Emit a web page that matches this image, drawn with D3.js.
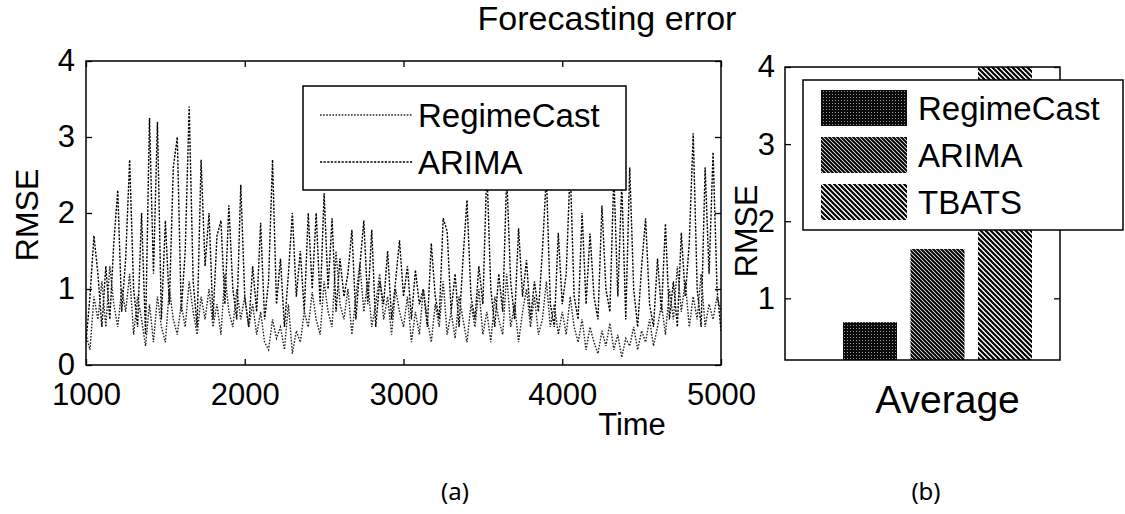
<!DOCTYPE html>
<meta charset="utf-8">
<head>
<style>
body{margin:0;background:#fff;}
text{font-family:"Liberation Sans",Arial,Helvetica,sans-serif;fill:#000;}
.frame{fill:none;stroke:#000;stroke-width:1.5px;}
.axis path{stroke:none;}
.axis line{stroke:#000;stroke-width:1.3px;}
.axis text{font-size:31px;font-family:"Liberation Sans",Arial,sans-serif;}
.legend .box{fill:#fff;stroke:#000;stroke-width:1.5px;}
.legend text{font-size:33px;}
.caption{font-family:"Noto Sans","Open Sans",sans-serif;font-size:24px;}
</style>
</head>
<body>
<script src="https://d3js.org/d3.v7.min.js"></script>
<script>

var time=[
1000,1025,1050,1075,1100,1125,1150,1175,1200,1225,1250,1275,1300,1325,1350,1375,1400,1425,1450,1475,
1500,1525,1550,1575,1600,1625,1650,1675,1700,1725,1750,1775,1800,1825,1850,1875,1900,1925,1950,1975,
2000,2025,2050,2075,2100,2125,2150,2175,2200,2225,2250,2275,2300,2325,2350,2375,2400,2425,2450,2475,
2500,2525,2550,2575,2600,2625,2650,2675,2700,2725,2750,2775,2800,2825,2850,2875,2900,2925,2950,2975,
3000,3025,3050,3075,3100,3125,3150,3175,3200,3225,3250,3275,3300,3325,3350,3375,3400,3425,3450,3475,
3500,3525,3550,3575,3600,3625,3650,3675,3700,3725,3750,3775,3800,3825,3850,3875,3900,3925,3950,3975,
4000,4025,4050,4075,4100,4125,4150,4175,4200,4225,4250,4275,4300,4325,4350,4375,4400,4425,4450,4475,
4500,4525,4550,4575,4600,4625,4650,4675,4700,4725,4750,4775,4800,4825,4850,4875,4900,4925,4950,4975,
5000];

var arima=[
0.3,0.9,1.7,1.2,0.5,1.3,0.6,1.6,2.3,0.7,1.4,2.7,1.0,0.5,2.0,0.4,3.25,1.2,3.2,0.6,
1.9,0.8,2.6,3.0,0.7,1.5,3.4,1.1,0.5,2.7,1.3,2.0,0.6,1.7,1.9,0.8,2.1,1.0,0.6,2.37,
0.9,0.5,1.3,0.7,1.87,0.6,1.1,2.7,0.8,1.4,0.5,1.2,2.0,0.9,1.5,0.7,2.0,1.0,2.0,0.8,
2.26,1.0,1.93,0.7,1.4,0.9,1.2,1.78,0.6,1.3,1.9,0.8,1.78,0.5,1.1,0.8,1.5,0.6,1.1,1.64,
0.9,1.3,0.6,1.25,0.8,1.0,0.5,1.6,0.9,0.6,1.93,1.76,0.7,1.2,0.5,1.4,2.17,0.9,0.6,1.3,
0.8,2.6,1.0,0.5,1.2,0.7,2.5,1.1,0.6,1.8,0.9,1.38,0.6,1.1,0.7,1.5,2.5,0.8,0.5,1.74,
0.8,1.2,2.6,0.9,0.6,2.0,0.8,1.73,0.9,0.6,2.1,1.0,0.7,2.5,0.9,2.4,0.6,2.6,1.0,0.5,
1.3,1.93,0.8,0.5,1.4,0.7,1.86,0.6,1.1,0.5,1.74,0.9,1.6,3.05,1.0,0.5,2.6,1.2,2.8,1.0,
0.45];

var regimeCast=[
0.4,0.2,0.9,0.6,1.1,0.5,1.3,0.8,0.5,1.0,0.7,1.2,0.4,0.9,0.6,0.25,0.8,0.3,0.9,0.5,
0.3,1.0,0.6,0.4,0.8,0.5,1.1,0.7,0.4,0.9,0.6,1.0,0.5,0.8,0.4,1.2,0.7,0.5,1.0,0.6,
0.9,0.5,0.8,0.4,0.7,0.3,0.2,0.6,0.35,0.5,0.2,0.8,0.15,0.45,0.3,0.7,0.5,0.96,0.6,0.4,
1.1,0.7,0.5,1.5,0.8,0.6,1.0,0.4,0.9,1.34,0.7,1.1,0.5,0.8,1.2,0.6,0.9,0.4,1.0,0.7,
0.5,0.9,0.3,0.7,0.4,1.0,0.6,0.3,0.8,0.5,1.1,0.4,0.7,0.35,0.9,0.6,0.3,0.8,0.5,1.0,
0.4,0.7,0.3,0.9,0.6,0.4,1.2,0.5,0.8,0.3,0.7,1.0,0.5,0.9,0.4,0.6,1.1,0.5,0.8,0.4,
0.7,0.4,0.9,0.5,0.3,0.6,0.2,0.5,0.3,0.15,0.45,0.25,0.55,0.2,0.4,0.1,0.35,0.25,0.5,0.2,
0.45,0.3,0.6,0.25,0.5,0.8,0.4,1.0,0.6,1.3,0.7,1.1,0.5,0.9,0.6,1.2,0.5,0.8,0.6,0.9,
0.7];

var methods=["RegimeCast","ARIMA","TBATS"];
var averages=[0.69,1.64,4.3];
var lineSeries=["RegimeCast","ARIMA"];
var xTicks=[1000,2000,3000,4000,5000];
var yTicksA=[0,1,2,3,4];
var yTicksB=[1,2,3,4];

var svg=d3.select("body").append("svg").attr("width",1125).attr("height",514);
svg.append("rect").attr("width",1125).attr("height",514).attr("fill","#fff");

// hatch patterns for the bars
var defs=svg.append("defs");
var p1=defs.append("pattern").attr("id","pRegime").attr("patternUnits","userSpaceOnUse").attr("width",3).attr("height",3);
p1.append("rect").attr("width",3).attr("height",3).attr("fill","#0a0a0a");
p1.append("rect").attr("x",1).attr("y",1).attr("width",1).attr("height",1).attr("fill","#999");
var p2=defs.append("pattern").attr("id","pArima").attr("patternUnits","userSpaceOnUse").attr("width",4).attr("height",4);
p2.append("rect").attr("width",4).attr("height",4).attr("fill","#fff");
p2.append("path").attr("d","M-1,-1L5,5M-1,3L1,5M3,-1L5,1").attr("stroke","#000").attr("stroke-width",2);
var p3=defs.append("pattern").attr("id","pTbats").attr("patternUnits","userSpaceOnUse").attr("width",5).attr("height",5);
p3.append("rect").attr("width",5).attr("height",5).attr("fill","#fff");
p3.append("path").attr("d","M-1,-1L6,6M-1,4L1,6M4,-1L6,1").attr("stroke","#000").attr("stroke-width",2.2);
var fills={RegimeCast:"url(#pRegime)",ARIMA:"url(#pArima)",TBATS:"url(#pTbats)"};

/* ---------- (a) time series ---------- */
var A={left:86,right:721,top:61,bottom:365};
var xA=d3.scaleLinear().domain([1000,5000]).range([A.left,A.right]);
var yA=d3.scaleLinear().domain([0,4]).range([A.bottom,A.top]);

defs.append("clipPath").attr("id","clipA").append("rect")
	.attr("x",A.left).attr("y",A.top).attr("width",A.right-A.left).attr("height",A.bottom-A.top);

var styles={
	RegimeCast:{stroke:"#222",dash:"1.6,1.5",w:1.4},
	ARIMA:{stroke:"#000",dash:"2.2,1.4",w:1.4}
};
var seriesData={RegimeCast:regimeCast,ARIMA:arima};
var line=d3.line().x(function(d,i){return xA(time[i]);}).y(function(d){return yA(d);});

var gA=svg.append("g");
gA.append("g").attr("clip-path","url(#clipA)").selectAll("path")
	.data(["ARIMA","RegimeCast"]).enter().append("path")
	.attr("d",function(k){return line(seriesData[k]);})
	.attr("fill","none")
	.attr("stroke",function(k){return styles[k].stroke;})
	.attr("stroke-width",function(k){return styles[k].w;})
	.attr("stroke-dasharray",function(k){return styles[k].dash;});

gA.append("g").attr("class","axis").attr("transform","translate(0,"+A.bottom+")")
	.call(d3.axisBottom(xA).tickValues(xTicks).tickSizeInner(-6).tickSizeOuter(0).tickPadding(18).tickFormat(d3.format("d")));
gA.append("g").attr("class","axis").attr("transform","translate(0,"+A.top+")")
	.call(d3.axisTop(xA).tickValues(xTicks).tickSizeInner(-6).tickSizeOuter(0).tickFormat(""));
gA.append("g").attr("class","axis").attr("transform","translate("+A.left+",0)")
	.call(d3.axisLeft(yA).tickValues(yTicksA).tickSizeInner(-6).tickSizeOuter(0).tickPadding(11).tickFormat(d3.format("d")));
gA.append("g").attr("class","axis").attr("transform","translate("+A.right+",0)")
	.call(d3.axisRight(yA).tickValues(yTicksA).tickSizeInner(-6).tickSizeOuter(0).tickFormat(""));
gA.selectAll(".axis text").attr("font-size",null).attr("font-family",null);

gA.append("rect").attr("class","frame")
	.attr("x",A.left).attr("y",A.top).attr("width",A.right-A.left).attr("height",A.bottom-A.top);

// legend (a)
var legA=gA.append("g").attr("class","legend");
legA.append("rect").attr("class","box").attr("x",303).attr("y",86).attr("width",323).attr("height",104);
lineSeries.forEach(function(k,i){
	var y=115+i*47;
	legA.append("line").attr("x1",320).attr("x2",413).attr("y1",y).attr("y2",y)
		.attr("stroke",styles[k].stroke).attr("stroke-width",styles[k].w+0.2).attr("stroke-dasharray",styles[k].dash);
	legA.append("text").attr("x",418).attr("y",y).attr("dy","0.36em").text(k);
});

gA.append("text").attr("x",632).attr("y",435).attr("text-anchor","middle").style("font-size","31px").text("Time");
gA.append("text").attr("transform","translate(38,215) rotate(-90)").attr("text-anchor","middle").style("font-size","32px").text("RMSE");

svg.append("text").attr("x",607).attr("y",30).attr("text-anchor","middle").style("font-size","34px").text("Forecasting error");

/* ---------- (b) average bars ---------- */
var B={left:785,right:1060,top:67,bottom:360};
var yB=d3.scaleLinear().domain([0.2,4]).range([B.bottom,B.top]);
var xB=d3.scaleBand().domain(methods).range([B.left+58,B.left+247]).paddingInner(0.2).paddingOuter(0);

defs.append("clipPath").attr("id","clipB").append("rect")
	.attr("x",B.left).attr("y",B.top).attr("width",B.right-B.left).attr("height",B.bottom-B.top);

var gB=svg.append("g");
gB.append("g").attr("clip-path","url(#clipB)").selectAll("rect")
	.data(methods).enter().append("rect")
	.attr("x",function(m){return xB(m);})
	.attr("width",xB.bandwidth())
	.attr("y",function(m,i){return yB(averages[i]);})
	.attr("height",function(m,i){return B.bottom-yB(averages[i]);})
	.attr("fill",function(m){return fills[m];});

gB.append("g").attr("class","axis").attr("transform","translate("+B.left+",0)")
	.call(d3.axisLeft(yB).tickValues(yTicksB).tickSizeInner(-6).tickSizeOuter(0).tickPadding(10).tickFormat(d3.format("d")));
gB.append("g").attr("class","axis").attr("transform","translate("+B.right+",0)")
	.call(d3.axisRight(yB).tickValues(yTicksB).tickSizeInner(-6).tickSizeOuter(0).tickFormat(""));
gB.selectAll(".axis text").attr("font-size",null).attr("font-family",null);

gB.append("rect").attr("class","frame")
	.attr("x",B.left).attr("y",B.top).attr("width",B.right-B.left).attr("height",B.bottom-B.top);

gB.append("text").attr("x",xB("ARIMA")+xB.bandwidth()/2+10).attr("y",413)
	.attr("text-anchor","middle").style("font-size","39px").text("Average");
gB.append("text").attr("transform","translate(757,231) rotate(-90)").attr("text-anchor","middle").style("font-size","32px").text("RMSE");

// legend (b)
var legB=gB.append("g").attr("class","legend");
legB.append("rect").attr("class","box").attr("x",803).attr("y",80).attr("width",320).attr("height",150);
methods.forEach(function(m,i){
	var y=90+i*47;
	legB.append("rect").attr("x",821).attr("y",y).attr("width",86).attr("height",36).attr("fill",fills[m]);
	legB.append("text").attr("x",918).attr("y",y+18).attr("dy","0.36em").text(m);
});

svg.append("text").attr("class","caption").attr("x",455).attr("y",500).attr("text-anchor","middle").text("(a)");
svg.append("text").attr("class","caption").attr("x",926).attr("y",500).attr("text-anchor","middle").text("(b)");

</script>
</body>
</html>
